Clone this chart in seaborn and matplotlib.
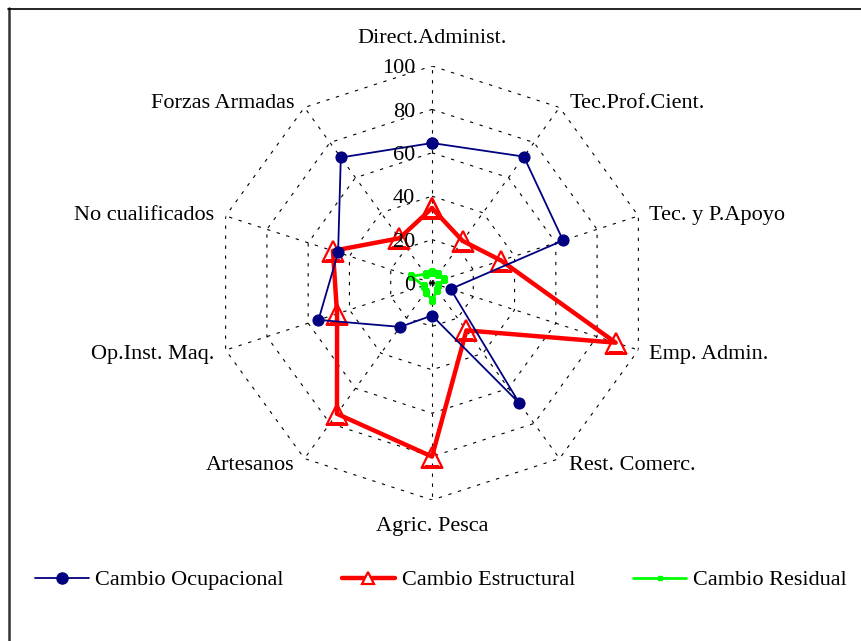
import numpy as np
import matplotlib
matplotlib.use("Agg")
import matplotlib.pyplot as plt
import seaborn as sns
from matplotlib.lines import Line2D

categories = ["Direct.Administ.", "Tec.Prof.Cient.", "Tec. y P.Apoyo", "Emp. Admin.",
              "Rest. Comerc.", "Agric. Pesca", "Artesanos", "Op.Inst. Maq.",
              "No cualificados", "Forzas Armadas"]
ocupacional = [64.5, 72, 63.5, 9, 68.5, 15, 25, 55, 45.5, 71.5]
estructural = [34.5, 24, 33.5, 89, 27, 80, 74.5, 46, 48, 25.5]
residual = [5, 5, 6, 3, 4, 8, 5, 4, 10, 5]
radial_ticks = [0, 20, 40, 60, 80, 100]
series_names = ["Cambio Ocupacional", "Cambio Estructural", "Cambio Residual"]

sns.set_theme(style="white")
plt.rcParams["font.family"] = ["Liberation Serif", "DejaVu Serif"]
plt.rcParams["text.color"] = "black"

FS = 16
W, H = 861, 641
fig = plt.figure(figsize=(W / 100, H / 100), dpi=100)
fig.patch.set_facecolor("white")

cx, cy, R = 432, 283, 217
ax = fig.add_axes([(cx - R) / W, (H - cy - R) / H, 2 * R / W, 2 * R / H], projection="polar")
ax.set_theta_zero_location("N")
ax.set_theta_direction(-1)
ax.set_ylim(0, 100)
ax.grid(False)
ax.spines["polar"].set_visible(False)
ax.set_xticks([])
ax.set_yticks([])
ax.set_facecolor("none")

n = len(categories)
angles = np.arange(n) * 2 * np.pi / n
closed = np.append(angles, 2 * np.pi)

# polygonal grid + spokes
for r in radial_ticks[1:]:
    ax.plot(closed, [r] * (n + 1), color="black", lw=0.8, ls=(0, (3, 6)), zorder=1)
for a in angles:
    ax.plot([a, a], [0, 100], color="black", lw=0.8, ls=(0, (3, 6)), zorder=1)


def close(vals):
    return list(vals) + [vals[0]]


sns.lineplot(x=closed, y=close(estructural), ax=ax, sort=False, estimator=None,
             color="#ff0000", lw=3.2, marker="^", markersize=15, markerfacecolor="none",
             markeredgecolor="#ff0000", markeredgewidth=1.6, zorder=3)
sns.lineplot(x=closed, y=close(ocupacional), ax=ax, sort=False, estimator=None,
             color="#000080", lw=1.3, marker="o", markersize=8, markeredgecolor="#000080",
             zorder=4)
sns.lineplot(x=closed, y=close(residual), ax=ax, sort=False, estimator=None,
             color="#00ff00", lw=2, marker="s", markersize=4, markeredgecolor="#00ff00",
             zorder=5)

# radial tick labels
for t in radial_ticks:
    ax.annotate(str(t), xy=(0, t), xytext=(-12, -2), textcoords="offset points",
                ha="right", va="center", fontsize=FS, color="black", zorder=6)

# category labels
offsets = [(0, 20, "center"), (7, 3, "left"), (8, 0, "left"), (8, -3, "left"),
           (7, -5, "left"), (0, -19, "center"), (-7, -5, "right"), (-8, -3, "right"),
           (-8, 0, "right"), (-7, 3, "right")]
for a, lab, (dx, dy, ha) in zip(angles, categories, offsets):
    ax.annotate(lab, xy=(a, 100), xytext=(dx, dy), textcoords="offset points",
                ha=ha, va="center", fontsize=FS, color="black", annotation_clip=False)

handles = [
    Line2D([], [], color="#000080", lw=1.3, marker="o", markersize=8),
    Line2D([], [], color="#ff0000", lw=3.2, marker="^", markersize=9,
           markerfacecolor="white", markeredgewidth=1.6),
    Line2D([], [], color="#00ff00", lw=2, marker="s", markersize=3),
]
leg = fig.legend(handles, series_names, loc="center", bbox_to_anchor=(441 / W, 1 - 580 / H),
                 ncol=3, frameon=False, fontsize=FS, handlelength=2.4, handletextpad=0.3,
                 columnspacing=2.6)
for txt in leg.get_texts():
    txt.set_color("black")

# outer frame (runs off right/bottom edges)
fig.add_artist(Line2D([9 / W, 9 / W], [1 - 8 / H, 0], transform=fig.transFigure,
                      color="#333333", lw=1.8))
fig.add_artist(Line2D([8 / W, 1], [1 - 8.5 / H, 1 - 8.5 / H], transform=fig.transFigure,
                      color="black", lw=1.2))

fig.savefig("out.png", dpi=100)
